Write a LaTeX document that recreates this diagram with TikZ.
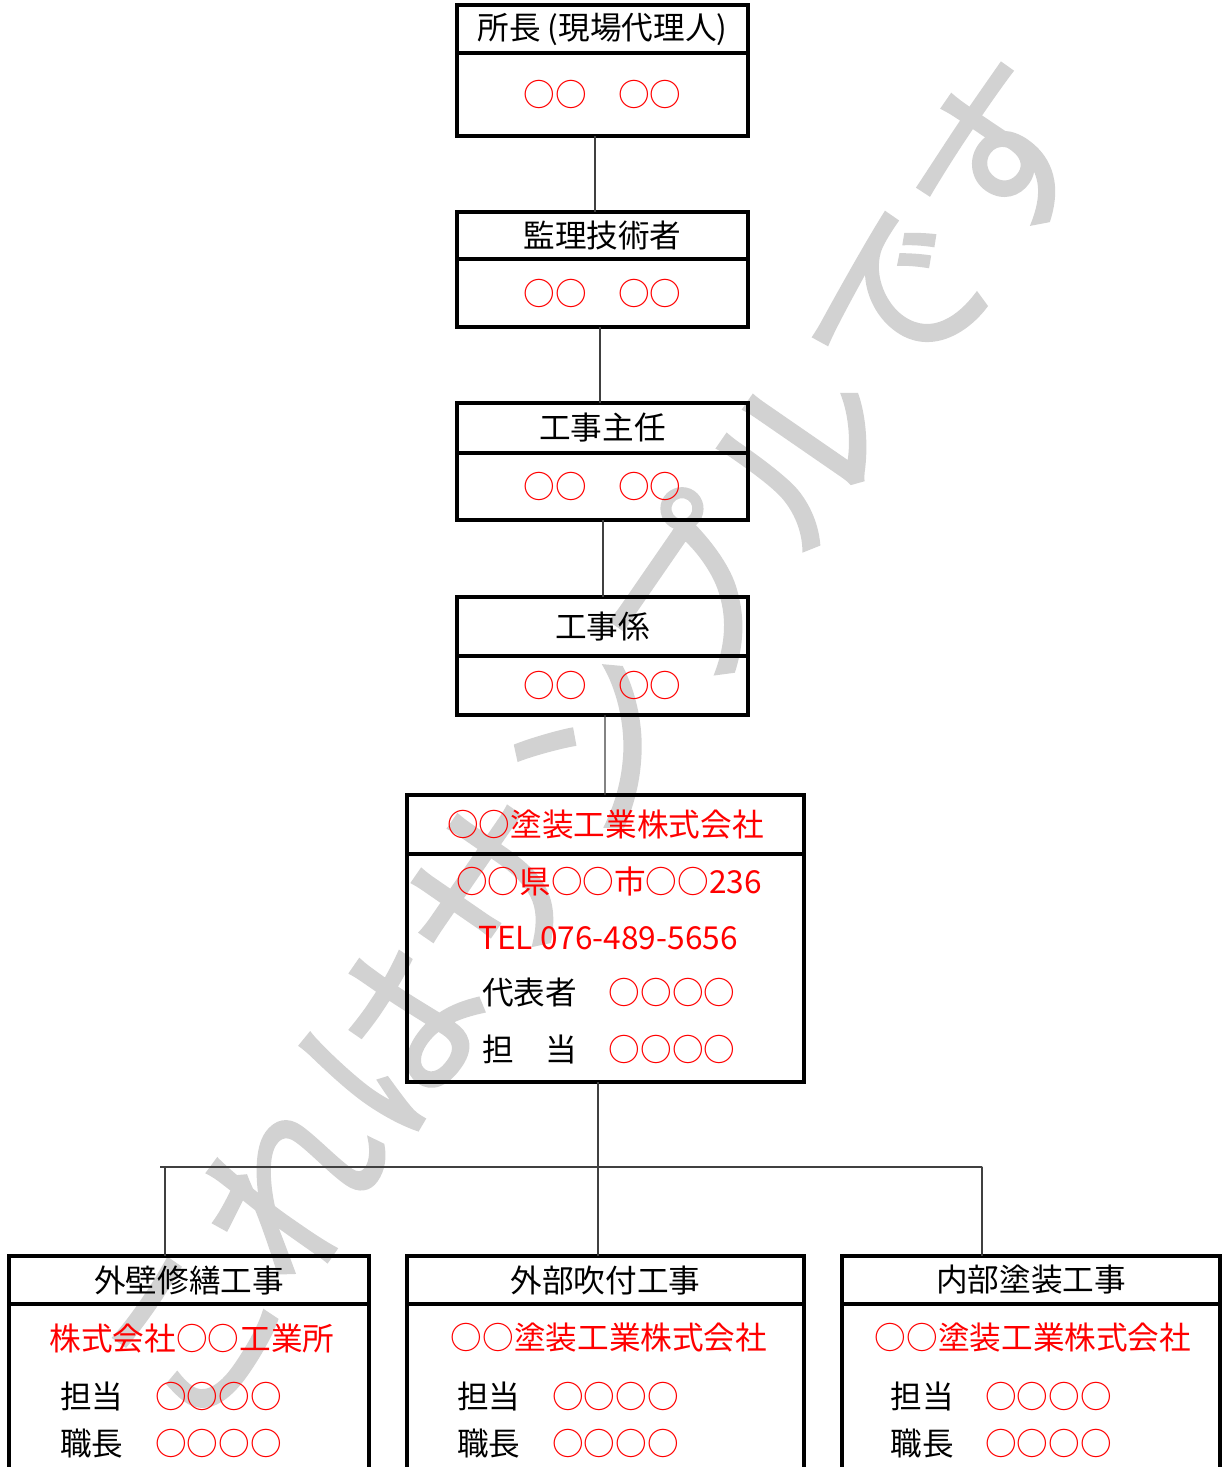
\documentclass[tikz,border=0pt]{standalone}
\usepackage{fontspec}
\setmainfont{Noto Sans CJK JP}
\newfontfamily\wmfont[FakeBold=1.6]{Noto Sans CJK JP}
\tikzstyle{every picture}=[line join=miter]
\tikzstyle{hdbox}=[draw, line width=1.8pt, inner sep=0pt, outer sep=0pt,%
	font=\fontsize{18}{22}\selectfont]
\tikzstyle{bdbox}=[hdbox, text=red]
\tikzstyle{txt}=[inner sep=0pt, font=\fontsize{18}{22}\selectfont]
\tikzstyle{link}=[line width=0.6pt, draw=black!75]
\tikzstyle{wmark}=[text=gray!35, rotate=55.4, inner sep=0pt,%
	font=\wmfont\fontsize{102}{102}\selectfont]

\begin{document}
\begin{tikzpicture}
	\path[use as bounding box, clip] (0,0) rectangle (24.46,-29.34);
	% watermark
	\node[wmark] (wm) at (11.85,-14.85) {これはサンプルです};
	% chain of staff
	\node[hdbox, minimum width=5.82cm, minimum height=0.96cm] (chiefH) at (12.05,-0.58) {所長 (現場代理人)};
	\node[bdbox, minimum width=5.82cm, minimum height=1.66cm] (chiefB) at (12.05,-1.89) {○○　○○};
	\node[hdbox, minimum width=5.82cm, minimum height=0.94cm] (engH) at (12.05,-4.71) {監理技術者};
	\node[bdbox, minimum width=5.82cm, minimum height=1.36cm] (engB) at (12.05,-5.86) {○○　○○};
	\node[hdbox, minimum width=5.82cm, minimum height=1.00cm] (leadH) at (12.05,-8.56) {工事主任};
	\node[bdbox, minimum width=5.82cm, minimum height=1.34cm] (leadB) at (12.05,-9.73) {○○　○○};
	\node[hdbox, minimum width=5.82cm, minimum height=1.18cm] (staffH) at (12.05,-12.53) {工事係};
	\node[bdbox, minimum width=5.82cm, minimum height=1.18cm] (staffB) at (12.05,-13.71) {○○　○○};
	% main contractor
	\node[bdbox, minimum width=7.94cm, minimum height=1.18cm] (firmH) at (12.11,-16.49) {○○塗装工業株式会社};
	\node[hdbox, minimum width=7.94cm, minimum height=4.56cm] (firmB) at (12.11,-19.36) {};
	\node[txt, text=red] (firmAddr) at (12.18,-17.62) {○○県○○市○○236};
	\node[txt, text=red] (firmTel) at (12.16,-18.76) {TEL 076-489-5656};
	\node[txt, anchor=west] (firmRep) at (9.64,-19.86) {代表者　\textcolor{red}{○○○○}};
	\node[txt, anchor=west] (firmChg) at (9.64,-20.98) {担　当　\textcolor{red}{○○○○}};
	% subcontractors
	\node[hdbox, minimum width=7.20cm, minimum height=0.96cm] (subLH) at (3.78,-25.6) {外壁修繕工事};
	\node[hdbox, minimum width=7.20cm, minimum height=3.92cm] (subLB) at (3.78,-28.04) {};
	\node[txt, text=red] (subLName) at (3.84,-26.76) {株式会社○○工業所};
	\node[txt, anchor=west] (subLChg) at (1.2,-27.92) {担当　\textcolor{red}{○○○○}};
	\node[txt, anchor=west] (subLFore) at (1.2,-28.88) {職長　\textcolor{red}{○○○○}};

	\node[hdbox, minimum width=7.94cm, minimum height=0.96cm] (subMH) at (12.11,-25.6) {外部吹付工事};
	\node[hdbox, minimum width=7.94cm, minimum height=3.92cm] (subMB) at (12.11,-28.04) {};
	\node[txt, text=red] (subMName) at (12.18,-26.76) {○○塗装工業株式会社};
	\node[txt, anchor=west] (subMChg) at (9.14,-27.92) {担当　\textcolor{red}{○○○○}};
	\node[txt, anchor=west] (subMFore) at (9.14,-28.88) {職長　\textcolor{red}{○○○○}};

	\node[hdbox, minimum width=7.56cm, minimum height=0.96cm] (subRH) at (20.62,-25.6) {内部塗装工事};
	\node[hdbox, minimum width=7.56cm, minimum height=3.92cm] (subRB) at (20.62,-28.04) {};
	\node[txt, text=red] (subRName) at (20.66,-26.76) {○○塗装工業株式会社};
	\node[txt, anchor=west] (subRChg) at (17.8,-27.92) {担当　\textcolor{red}{○○○○}};
	\node[txt, anchor=west] (subRFore) at (17.8,-28.88) {職長　\textcolor{red}{○○○○}};
	% connectors
	\draw[link] ([xshift=-0.15cm]chiefB.south) -- ([xshift=-0.15cm]engH.north);
	\draw[link] ([xshift=-0.05cm]engB.south) -- ([xshift=-0.05cm]leadH.north);
	\draw[link] ([xshift=0.01cm]leadB.south) -- ([xshift=0.01cm]staffH.north);
	\draw[link] ([xshift=0.05cm]staffB.south) -- ([xshift=-0.01cm]firmH.north);
	\draw[link] ([xshift=-0.15cm]firmB.south) -- ([xshift=-0.15cm]subMH.north);
	\coordinate (busW) at (3.2,-23.34);
	\coordinate (busE) at (19.64,-23.34);
	\draw[link] (busW) -- (busE);
	\draw[link] (busW) -| ([xshift=-0.48cm]subLH.north);
	\draw[link] (busE) -| ([xshift=-0.98cm]subRH.north);
\end{tikzpicture}
\end{document}
